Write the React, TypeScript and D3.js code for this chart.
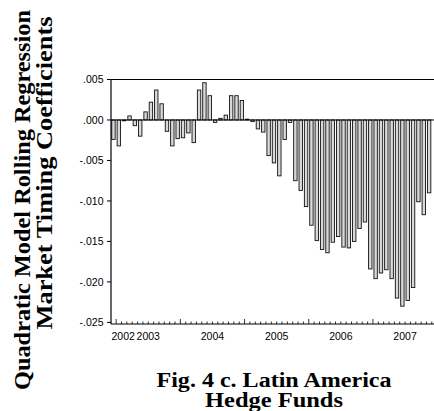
import React from "react";
import * as d3 from "d3";

const W = 434;
const H = 411;

// first observation: December 2002, monthly
const startYear = 2002;
const startMonth = 12;

const coefficients = [
  -0.0024, -0.0032, -0.0001, 0.0005, -0.0007, -0.002, 0.001, 0.0022, 0.0037, 0.002,
  -0.0014, -0.0032, -0.0023, -0.0022, -0.0016, -0.0028, 0.0037, 0.0046, 0.003, -0.0003,
  0.0002, 0.0006, 0.003, 0.003, 0.0024, 0.0001, -0.0002, -0.0011, -0.0015, -0.0044,
  -0.0053, -0.0069, -0.0024, -0.0003, -0.0075, -0.0087, -0.0107, -0.013, -0.0149, -0.016,
  -0.0164, -0.0151, -0.0144, -0.0157, -0.0158, -0.015, -0.0134, -0.0126, -0.0184, -0.0196,
  -0.0189, -0.0185, -0.0196, -0.022, -0.023, -0.0223, -0.0207, -0.0101, -0.0117, -0.009,
];

const yTicks = [0.005, 0, -0.005, -0.01, -0.015, -0.02, -0.025];
const yearLabels = ["2002", "2003", "2004", "2005", "2006", "2007"];
const yTitleLines = ["Quadratic Model Rolling Regression", "Market Timing Coefficients"];
const titleLines = ["Fig. 4 c. Latin America", "Hedge Funds"];

const fmt = (v: number) => {
  const s = d3.format(".3f")(Math.abs(v)).replace(/^0/, "");
  return v < 0 ? "-" + s : s;
};

export default function App() {
  const plotLeft = 111;
  const plotTop = 79.5;
  const plotBottom = 324;
  const nSlots = coefficients.length + 1;
  const bandStart = 110.8;
  const step = 5.35;
  const plotRight = bandStart + nSlots * step;

  const x = d3
    .scaleBand<number>()
    .domain(d3.range(nSlots))
    .range([bandStart, plotRight])
    .padding(0);
  const bw = x.bandwidth();
  const barW = 3.4;

  const y = d3.scaleLinear().domain([-0.0252, 0.005]).range([plotBottom, plotTop]);

  const slotYear = (i: number) => startYear + Math.floor((startMonth - 1 + i) / 12);
  const isJan = (i: number) => (startMonth - 1 + i) % 12 === 0;

  const axisFont = "'Liberation Sans', Arial, sans-serif";
  const serif = "'Liberation Serif', 'Times New Roman', serif";

  const boundaries = d3.range(nSlots + 1);

  // y-title layout: [baseline x, centre y, length]
  const yTitleLayout = [
    [29.5, 200, 380],
    [52, 173, 313],
  ];
  const titleLayout = [
    [387, 235],
    [407, 138],
  ];

  return (
    <svg
      width={W}
      height={H}
      style={{ position: "absolute", left: 0, top: 0, display: "block", background: "#fff" }}
    >
      {/* bars */}
      <g>
        {coefficients.map((v, i) => {
          const y0 = y(0);
          const y1 = y(v);
          return (
            <rect
              key={i}
              x={(x(i) as number) + (bw - barW) / 2}
              y={Math.min(y0, y1)}
              width={barW}
              height={Math.max(Math.abs(y1 - y0), 0.8)}
              fill="#d9d9d9"
              stroke="#111"
              strokeWidth={0.9}
            />
          );
        })}
      </g>

      {/* zero line */}
      <line x1={plotLeft} x2={plotRight} y1={y(0)} y2={y(0)} stroke="#000" strokeWidth={1} />

      {/* frame */}
      <line x1={plotLeft} x2={plotRight} y1={plotTop} y2={plotTop} stroke="#000" strokeWidth={1.2} />
      <line x1={plotLeft} x2={plotLeft} y1={plotTop} y2={plotBottom} stroke="#000" strokeWidth={1.2} />
      <line x1={plotLeft} x2={plotRight} y1={plotBottom} y2={plotBottom} stroke="#000" strokeWidth={1.2} />

      {/* y ticks */}
      {yTicks.map((t) => (
        <g key={t}>
          <line x1={plotLeft - 4} x2={plotLeft} y1={y(t)} y2={y(t)} stroke="#000" strokeWidth={1} />
          <text
            x={plotLeft - 7.5}
            y={y(t)}
            dy="0.35em"
            textAnchor="end"
            fontFamily={axisFont}
            fontSize={10.5}
            fill="#000"
          >
            {fmt(t)}
          </text>
        </g>
      ))}

      {/* x ticks */}
      {boundaries.map((i) => {
        const xx = i < nSlots ? (x(i) as number) : plotRight;
        if (xx < plotLeft) return null;
        const major = isJan(i);
        return (
          <line
            key={i}
            x1={xx}
            x2={xx}
            y1={plotBottom}
            y2={plotBottom - (major ? 5 : 2.5)}
            stroke="#000"
            strokeWidth={0.8}
          />
        );
      })}

      {/* year labels */}
      {yearLabels.map((lab) => {
        const yr = +lab;
        const slots = d3.range(nSlots).filter((i) => slotYear(i) === yr);
        if (!slots.length) return null;
        const a = x(slots[0]) as number;
        const b = (x(slots[slots.length - 1]) as number) + bw;
        const tooNarrow = b - a < 26;
        return (
          <text
            key={lab}
            x={tooNarrow ? plotLeft + 0.5 : (a + b) / 2}
            y={340}
            textAnchor={tooNarrow ? "start" : "middle"}
            fontFamily={axisFont}
            fontSize={10.5}
            fill="#000"
          >
            {lab}
          </text>
        );
      })}

      {/* y title */}
      {yTitleLines.map((line, k) => (
        <text
          key={line}
          transform={`translate(${yTitleLayout[k][0]},${yTitleLayout[k][1]}) rotate(-90)`}
          textAnchor="middle"
          fontFamily={serif}
          fontWeight="bold"
          fontSize={24}
          textLength={yTitleLayout[k][2]}
          lengthAdjust="spacingAndGlyphs"
          fill="#000"
        >
          {line}
        </text>
      ))}

      {/* figure title */}
      {titleLines.map((line, k) => (
        <text
          key={line}
          x={274}
          y={titleLayout[k][0]}
          textAnchor="middle"
          fontFamily={serif}
          fontWeight="bold"
          fontSize={20.5}
          textLength={titleLayout[k][1]}
          lengthAdjust="spacingAndGlyphs"
          fill="#000"
        >
          {line}
        </text>
      ))}
    </svg>
  );
}
